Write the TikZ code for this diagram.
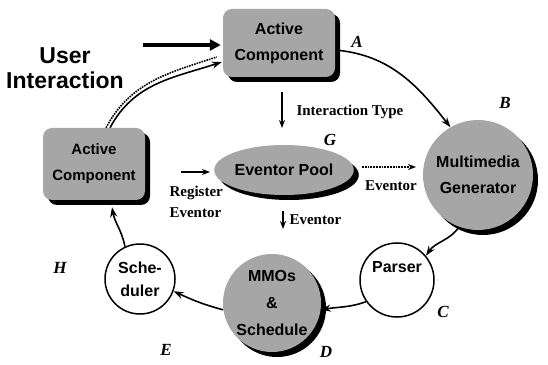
\documentclass[tikz,border=0pt]{standalone}
\usepackage{fontspec}
\setmainfont{Liberation Serif}
\setsansfont{Liberation Sans}
\usetikzlibrary{arrows.meta,shapes.geometric,shadows,backgrounds}
\begin{document}
\begin{tikzpicture}[x=1pt,y=1pt,
  comp/.style={draw=none, fill=black!35,
    drop shadow={shadow xshift=5pt,shadow yshift=-5pt,fill=black,opacity=1},
    font=\sffamily\bfseries\fontsize{16}{26}\selectfont, align=center, inner sep=0pt},
  rbox/.style={comp, rectangle, rounded corners=9pt},
  ball/.style={comp, circle},
  pool/.style={comp, ellipse},
  plainball/.style={circle, draw, line width=1.5pt, fill=white, inner sep=0pt,
    font=\sffamily\bfseries\fontsize{16}{23}\selectfont, align=center},
  tag/.style={font=\bfseries\itshape\fontsize{17}{17}\selectfont},
  lbl/.style={font=\bfseries\fontsize{15}{20}\selectfont},
  ring/.style={line width=1.6pt, -{Stealth[length=10pt,width=7pt]}},
  small/.style={line width=1.4pt, -{Stealth[length=8pt,width=6pt]}}
]
\useasboundingbox (0,0) rectangle (548,364);

% components
\node[rbox, minimum width=112pt, minimum height=68pt] (A) at (279,321) {Active\\Component};
\node[rbox, minimum width=102pt, minimum height=72pt, font=\sffamily\bfseries\fontsize{15}{26}\selectfont] (H) at (94,200) {Active\\Component};
\node[pool, minimum width=136pt, minimum height=50pt] (G) at (284,194) {Eventor Pool};
\node[ball, minimum size=110pt] (B) at (478,189) {Multimedia\\Generator};
\node[ball, minimum size=98pt, font=\sffamily\bfseries\fontsize{16}{27}\selectfont] (D) at (272,61) {MMOs\\\&\\Schedule};
\node[plainball, minimum size=74pt] (C) at (397,84) {Parser\\[-4pt]\strut};
\node[plainball, minimum size=70pt] (E) at (140,85) {Sche-\\duler};

% letters
\node[tag] (tA) at (357,322) {A};
\node[tag] (tB) at (505,261) {B};
\node[tag] (tC) at (443,52) {C};
\node[tag] (tD) at (326,12) {D};
\node[tag] (tE) at (166,14) {E};
\node[tag] (tG) at (330,224) {G};
\node[tag] (tH) at (60,96) {H};

% user input
\node[font=\sffamily\bfseries\fontsize{23}{25}\selectfont, align=center] (user) at (65,296) {User\\Interaction};
\coordinate (uistart) at (143,319);
\draw[line width=3.6pt, -{Triangle[length=11pt,width=11pt]}] (uistart) -- ([xshift=-2pt]A.west |- uistart);

% labelled short arrows
\coordinate (it1) at (282,272);
\coordinate (it2) at (282,236);
\draw[small] (it1) -- (it2);
\node[lbl, anchor=west] (itype) at (293,252) {Interaction Type};

\coordinate (rg1) at (181,192);
\coordinate (rg2) at (210,192);
\draw[small] (rg1) -- (rg2);
\node[lbl, anchor=west, align=left, font=\bfseries\fontsize{15}{21}\selectfont] (reg) at (166,162) {Register\\Eventor};

\coordinate (ev1) at (283,153);
\coordinate (ev2) at (283,135);
\draw[small] (ev1) -- (ev2);
\node[lbl, anchor=west] (evd) at (286,144) {Eventor};

\coordinate (er1) at (362,197);
\coordinate (er2) at (416,197);
\draw[line width=1.8pt, densely dotted, -{Stealth[length=8pt,width=6pt]}] (er1) -- (er2);
\node[lbl] (evr) at (391,178) {Eventor};

% the cycle
\begin{scope}[on background layer]
\draw[ring] ([yshift=-7pt]A.east) to[out=-5,in=128] (B.120);
\draw[ring] (B.250) to[out=235,in=55] (C.40);
\draw[ring] (C.215) to[out=200,in=10] (D.-8);
\draw[ring] (D.188) to[out=165,in=-25] (E.-20);
\draw[ring] (E.115) to[out=100,in=-80] ([xshift=18pt,yshift=-7pt]H.south);
\draw[ring] ([xshift=16pt]H.north) to[out=62,in=198] ([xshift=-1pt,yshift=-19pt]A.west);
\draw[line width=1.6pt, densely dotted] ([xshift=12pt,yshift=0pt]H.north) to[out=62,in=198] ([xshift=-6pt,yshift=-14pt]A.west);
\end{scope}
\end{tikzpicture}
\end{document}
